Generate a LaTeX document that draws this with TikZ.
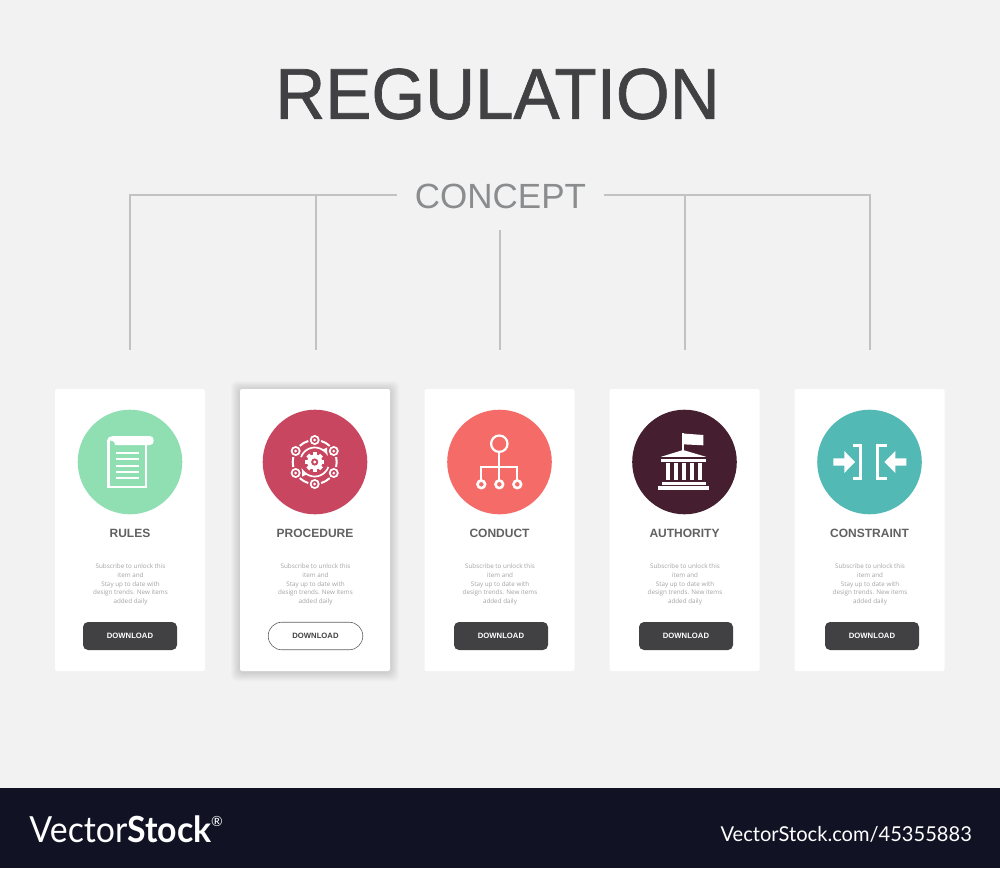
\documentclass[tikz,border=0pt]{standalone}
\usepackage{fontspec}
\setmainfont{Liberation Sans}
\newfontfamily\titlefont[FakeBold=1]{Liberation Sans}
\newfontfamily\descfont{Open Sans}
\newfontfamily\brandfont{Lato}
\definecolor{bgcol}{HTML}{F2F2F2}
\definecolor{linecol}{HTML}{C2C2C2}
\definecolor{titlecol}{HTML}{414042}
\definecolor{conceptcol}{HTML}{8A8C8E}
\definecolor{labelcol}{HTML}{616161}
\definecolor{desccol}{HTML}{A3A3A3}
\definecolor{bandcol}{HTML}{111325}
\definecolor{mintcol}{HTML}{8FDFB3}
\definecolor{crimsoncol}{HTML}{C84660}
\definecolor{coralcol}{HTML}{F46B68}
\definecolor{plumcol}{HTML}{451E2F}
\definecolor{tealcol}{HTML}{52B9B5}
\tikzset{
  cardbox/.style={fill=white,rounded corners=2pt,minimum width=150pt,minimum height=282pt,inner sep=0pt},
  disc/.style={circle,minimum size=104.6pt,inner sep=0pt},
  tree/.style={linecol,line width=2pt},
  cardlabel/.style={text=labelcol,font=\bfseries\fontsize{12}{12}\selectfont,inner sep=0pt},
  desc/.style={text=desccol,font=\descfont\fontsize{6.3}{8.7}\selectfont,align=center,inner sep=0pt},
  btnfull/.style={fill=titlecol,text=white,rounded corners=5pt,minimum width=94pt,minimum height=28pt,inner sep=0pt,font=\bfseries\fontsize{7.7}{8}\selectfont},
  btnline/.style={draw=labelcol,line width=0.6pt,fill=white,text=titlecol,rounded corners=13.5pt,minimum width=94.5pt,minimum height=27.5pt,inner sep=0pt,font=\bfseries\fontsize{7.7}{8}\selectfont},
  glyph/.style={white,line width=2.2pt},
}
\begin{document}
\begin{tikzpicture}[x=1pt,y=-1pt]
\useasboundingbox (0,0) rectangle (1000,868);
\fill[bgcol] (0,0) rectangle (1000,868);
\fill[bandcol] (0,788) rectangle (1000,868);
\node[text=titlecol,font=\titlefont\fontsize{72}{72}\selectfont,inner sep=0pt,xscale=0.96] (title) at (497.5,94) {REGULATION};
\node[text=conceptcol,font=\fontsize{35}{35}\selectfont,inner xsep=18pt,inner ysep=0pt] (concept) at (500.5,196) {CONCEPT};
\coordinate (corner1) at (130,195);
\coordinate (corner5) at (870,195);
\coordinate (joint2) at (315.5,195);
\coordinate (joint4) at (685,195);
\coordinate (stem) at (500,230);
\foreach \i/\x in {1/130,2/315.5,3/500,4/685,5/870} \coordinate (drop\i) at (\x,350);
\draw[tree] (concept.west |- corner1) -- (corner1) -- (drop1);
\draw[tree] (concept.east |- corner5) -- (corner5) -- (drop5);
\draw[tree] (joint2) -- (drop2);
\draw[tree] (joint4) -- (drop4);
\draw[tree] (stem) -- (drop3);
\foreach \k in {1,...,9}
  \fill[black,opacity=0.015,rounded corners=5pt] ({240-\k},{389-\k+1}) rectangle ({390+\k},{671+\k+1});
\foreach \i/\x/\name/\col in {1/130/RULES/mintcol,2/315/PROCEDURE/crimsoncol,3/499.5/CONDUCT/coralcol,4/684.5/AUTHORITY/plumcol,5/869.5/CONSTRAINT/tealcol}{
  \node[cardbox] (card\i) at (\x,530) {};
  \node[disc,fill=\col] (disc\i) at (\x,462) {};
  \node[cardlabel] (label\i) at (\x,533.5) {\name};
  \node[desc] (desc\i) at (\x+0.5,584.6) {Subscribe to unlock this\\item and\\Stay up to date with\\design trends. New items\\added daily};
}
\node[btnfull] (btn1) at (130,636) {DOWNLOAD};
\node[btnline] (btn2) at (315.5,636) {DOWNLOAD};
\node[btnfull] (btn3) at (501,636) {DOWNLOAD};
\node[btnfull] (btn4) at (686,636) {DOWNLOAD};
\node[btnfull] (btn5) at (872,636) {DOWNLOAD};
% rules
\draw[glyph] (108.4,440) -- (108.4,487.2) -- (145.9,487.2) -- (145.9,443);
\fill[white] (107.3,441) .. controls (107.3,437.5) and (110,436) .. (113,436) -- (150,436) .. controls (155,436) and (155,445) .. (150,445) -- (115,445) .. controls (115,441) and (112,440) .. (107.3,441) -- cycle;
\foreach \y in {453,459.3,465.7,472,478.3}
  \draw[white,line width=1.7pt] (115.7,\y) -- (139,\y);
% procedure
\coordinate (gear) at (314.7,462);
\foreach \a in {30,90,...,330}{
  \draw[white,line width=2pt] ([shift={(\a+17:22)}]gear) arc (\a+17:\a+43:22);
  \fill[white] ([shift={(\a:22)}]gear) circle (5);
  \fill[crimsoncol] ([shift={(\a:22)}]gear) circle (3);
  \fill[white] ([shift={(\a:22)}]gear) circle (1.5);
}
\draw[white,line width=1.7pt,->,>={latex}] ([shift={(200:14.5)}]gear) arc (200:335:14.5);
\draw[white,line width=1.7pt,->,>={latex}] ([shift={(20:14.5)}]gear) arc (20:155:14.5);
\foreach \a in {0,45,...,315}
  \fill[white,rotate around={\a:(gear)}] (312.7,452.3) rectangle (316.7,456);
\fill[white] (gear) circle (7.6);
\fill[crimsoncol] (gear) circle (3.6);
\fill[white] (gear) circle (1.6);
% conduct
\draw[glyph] (499.3,443.7) circle (8.2);
\draw[glyph] (499.3,451.9) -- (499.3,480.3);
\draw[glyph] (481.3,480.3) -- (481.3,467.3) -- (517.3,467.3) -- (517.3,480.3);
\foreach \x in {481.3,499.3,517.3}
  \draw[glyph,line width=2.6pt] (\x,484.3) circle (3.8);
% authority
\draw[white,line width=1.4pt] (683,433.3) -- (683,451);
\fill[white] (683,433.5) -- (703.3,435) -- (703.3,445.3) -- (683,444.3) -- cycle;
\fill[white] (661,456.8) -- (683,450) -- (706,456.8) -- cycle;
\fill[white] (661,458.5) rectangle (706,461.7);
\foreach \x in {666,674.2,682.3,690.3,698.3}
  \fill[white] (\x,463.3) rectangle (\x+4,480);
\fill[white] (661.7,481.7) rectangle (706,484.7);
\fill[white] (658.3,486) rectangle (709.3,490.3);
% constraint
\fill[white] (833.3,458.3) -- (844.3,458.3) -- (844.3,451) -- (855,462) -- (844.3,473) -- (844.3,465.7) -- (833.3,465.7) -- cycle;
\fill[white] (906.3,458.3) -- (895.3,458.3) -- (895.3,451) -- (884.3,462) -- (895.3,473) -- (895.3,465.7) -- (906.3,465.7) -- cycle;
\draw[white,line width=3pt] (852.7,445.2) -- (860.2,445.2) -- (860.2,478.5) -- (852.7,478.5);
\draw[white,line width=3pt] (886.7,445.2) -- (877.8,445.2) -- (877.8,478.5) -- (886.7,478.5);
% band
\node[text=white,font=\brandfont\fontsize{36}{36}\selectfont,anchor=west,inner sep=0pt,xscale=0.94] (brand) at (29.3,829) {Vector\textbf{Stock}};
\node[text=white,font=\brandfont\fontsize{14}{14}\selectfont,anchor=west,inner sep=0pt] (reg) at (211,821) {\textregistered};
\node[text=white,font=\brandfont\fontsize{20.5}{20.5}\selectfont,anchor=east,inner sep=0pt,xscale=0.98] (ref) at (972,834) {VectorStock.com/45355883};
\end{tikzpicture}
\end{document}
